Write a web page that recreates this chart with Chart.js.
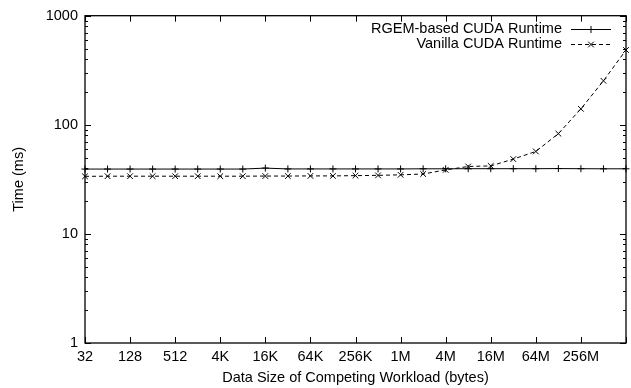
<!DOCTYPE html>
<html>
<head>
    <title>RGEM vs Vanilla CUDA Runtime</title>
    <script src="https://cdn.jsdelivr.net/npm/chart.js"></script>
    <style>
        body { margin: 0; background: #fff; }
    </style>
</head>
<body>
    <canvas id="runtimeChart" width="631" height="388"></canvas>

    <script>
        // Data (x axis = doubling data sizes)
        const sizes = ['32', '64', '128', '256', '512', '2K', '4K', '8K', '16K', '32K', '64K', '128K',
                       '256K', '512K', '1M', '2M', '4M', '8M', '16M', '32M', '64M', '128M', '256M', '512M', '1G'];
        const rgemTimes = [39.3, 39.3, 39.3, 39.3, 39.3, 39.3, 39.3, 39.3, 40.1, 39.4, 39.4, 39.4,
                           39.4, 39.4, 39.4, 39.5, 39.5, 39.6, 39.6, 39.6, 39.6, 39.7, 39.6, 39.5, 39.5];
        const vanillaTimes = [33.7, 33.8, 33.8, 33.8, 33.8, 33.8, 33.8, 33.8, 33.9, 33.9, 34.0, 34.0,
                              34.2, 34.4, 34.8, 35.4, 38.6, 41.5, 42.0, 48.5, 57.0, 83.0, 140, 253, 485];
        const yMajorTicks = [1, 10, 100, 1000];
        const seriesNames = ['RGEM-based CUDA Runtime', 'Vanilla CUDA Runtime'];

        const FONT = "'Liberation Sans', Arial, Helvetica, sans-serif";
        Chart.defaults.font.family = FONT;
        Chart.defaults.font.size = 14.5;
        Chart.defaults.color = '#000';

        // gnuplot style box with inward ticks
        const framePlugin = {
            id: 'frame',
            afterDatasetsDraw(chart) {
                const { ctx, chartArea: a, scales: { x, y } } = chart;
                ctx.save();
                ctx.strokeStyle = '#000';
                ctx.lineWidth = 1.3;
                ctx.strokeRect(a.left, a.top, a.right - a.left, a.bottom - a.top);
                ctx.lineWidth = 1;
                ctx.beginPath();
                for (let i = 0; i < sizes.length; i += 2) {
                    const px = Math.round(x.getPixelForValue(i)) + 0.5;
                    ctx.moveTo(px, a.bottom); ctx.lineTo(px, a.bottom - 6);
                    ctx.moveTo(px, a.top); ctx.lineTo(px, a.top + 6);
                }
                yMajorTicks.forEach((v, k) => {
                    const py = Math.round(y.getPixelForValue(v)) + 0.5;
                    ctx.moveTo(a.left, py); ctx.lineTo(a.left + 6, py);
                    ctx.moveTo(a.right, py); ctx.lineTo(a.right - 6, py);
                    if (k < yMajorTicks.length - 1) {
                        for (let m = 2; m <= 9; m++) {
                            const pm = Math.round(y.getPixelForValue(v * m)) + 0.5;
                            ctx.moveTo(a.left, pm); ctx.lineTo(a.left + 3, pm);
                            ctx.moveTo(a.right, pm); ctx.lineTo(a.right - 3, pm);
                        }
                    }
                });
                ctx.stroke();
                ctx.restore();
            }
        };

        // legend in gnuplot layout: text first, then line sample
        const keyPlugin = {
            id: 'key',
            afterDraw(chart) {
                const { ctx } = chart;
                const textRight = 562, lineFrom = 571, lineTo = 611;
                ctx.save();
                ctx.font = '14.5px ' + FONT;
                ctx.textAlign = 'right';
                ctx.textBaseline = 'middle';
                chart.data.datasets.forEach((ds, i) => {
                    const yy = 29 + i * 15;
                    ctx.fillStyle = '#000';
                    ctx.fillText(ds.label, textRight, yy);
                    ctx.strokeStyle = ds.borderColor;
                    ctx.lineWidth = ds.borderWidth;
                    ctx.setLineDash(ds.borderDash || []);
                    ctx.beginPath();
                    ctx.moveTo(lineFrom, yy + 0.5); ctx.lineTo(lineTo, yy + 0.5);
                    ctx.stroke();
                    ctx.setLineDash([]);
                    Chart.helpers.drawPoint(ctx, {
                        pointStyle: ds.pointStyle, radius: ds.pointRadius, rotation: 0, borderWidth: 1
                    }, (lineFrom + lineTo) / 2, yy + 0.5);
                });
                ctx.restore();
            }
        };

        const ctx = document.getElementById('runtimeChart').getContext('2d');
        new Chart(ctx, {
            type: 'line',
            data: {
                labels: sizes,
                datasets: [{
                    label: seriesNames[0],
                    data: rgemTimes,
                    borderColor: '#000',
                    backgroundColor: '#000',
                    borderWidth: 1,
                    pointStyle: 'cross',
                    pointRadius: 3.5,
                    pointBorderWidth: 1,
                    tension: 0
                }, {
                    label: seriesNames[1],
                    data: vanillaTimes,
                    borderColor: '#000',
                    backgroundColor: '#000',
                    borderWidth: 1,
                    borderDash: [4, 3],
                    pointStyle: 'crossRot',
                    pointRadius: 4,
                    pointBorderWidth: 1,
                    tension: 0
                }]
            },
            options: {
                responsive: false,
                animation: false,
                devicePixelRatio: 1,
                layout: { padding: { top: 15, right: 3, left: 0, bottom: 0 } },
                plugins: {
                    legend: { display: false },
                    tooltip: { enabled: false }
                },
                scales: {
                    x: {
                        type: 'category',
                        offset: false,
                        grid: { display: false, drawTicks: false },
                        border: { display: false },
                        ticks: {
                            autoSkip: false,
                            maxRotation: 0,
                            padding: 5,
                            callback: function (val, i) {
                                return (i % 2 === 0 && i < sizes.length - 1) ? sizes[i] : '';
                            }
                        },
                        title: {
                            display: true,
                            text: 'Data Size of Competing Workload (bytes)',
                            padding: { top: 0, bottom: 1 }
                        },
                        afterFit: s => { s.height = 45; }
                    },
                    y: {
                        type: 'logarithmic',
                        min: 1,
                        max: 1000,
                        grid: { display: false, drawTicks: false },
                        border: { display: false },
                        ticks: {
                            autoSkip: false,
                            padding: 7,
                            callback: v => yMajorTicks.includes(v) ? String(v) : ''
                        },
                        title: {
                            display: true,
                            text: 'Time (ms)',
                            padding: { top: 10, bottom: 0 }
                        },
                        afterFit: s => { s.width = 85; }
                    }
                }
            },
            plugins: [framePlugin, keyPlugin]
        });
    </script>
</body>
</html>
